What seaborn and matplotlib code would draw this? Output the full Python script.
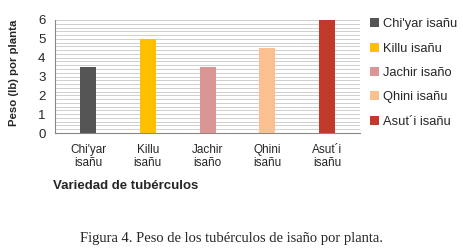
import matplotlib
matplotlib.use("Agg")
import matplotlib.pyplot as plt
import seaborn as sns
import pandas as pd
import numpy as np

categories = ["Chi'yar isañu", "Killu isañu", "Jachir isaño", "Qhini isañu", "Asut´i isañu"]
tick_labels = ["Chi'yar\nisañu", "Killu\nisañu", "Jachir\nisaño", "Qhini\nisañu", "Asut´i\nisañu"]
values = [3.5, 5.0, 3.5, 4.5, 6.0]
colors = ["#555555", "#FFC000", "#DA9694", "#FAC08F", "#C0392B"]

sns.set_style("white")
plt.rcParams['font.family'] = ['Liberation Sans', 'DejaVu Sans']

df = pd.DataFrame({"Variedad": categories, "Peso": values})

fig = plt.figure(figsize=(4.64, 2.5), dpi=100)
ax = fig.add_axes([0.119, 0.468, 0.657, 0.452])

for y in np.arange(0.2, 6.01, 0.2):
    ax.axhline(y, color="#c8c8c8", lw=0.6, zorder=0)

sns.barplot(data=df, x="Variedad", y="Peso", hue="Variedad", palette=colors,
            width=0.27, dodge=False, ax=ax, saturation=1, edgecolor="none", zorder=3)

ax.set_ylim(0, 6)
ax.set_yticks(range(0, 7))
ax.set_xticks(range(len(tick_labels)))
ax.set_xticklabels(tick_labels, fontsize=8.5, linespacing=1.1)
ax.tick_params(axis='y', labelsize=9.5, length=3, color="#888888", pad=4)
ax.tick_params(axis='x', length=0, pad=8)
ax.set_xlim(-0.55, 4.55)
for s in ["top", "right"]:
    ax.spines[s].set_visible(False)
ax.spines["left"].set_color("#888888")
ax.spines["bottom"].set_color("#888888")

ax.set_ylabel("Peso (lb) por planta", fontsize=8.2, fontweight="bold")
ax.yaxis.set_label_coords(-0.12, 0.53)
ax.set_xlabel("Variedad de tubérculos", fontsize=9.5, fontweight="bold", labelpad=0)
ax.xaxis.set_label_coords(0.23, -0.42)

leg = ax.get_legend()
if leg is not None:
    leg.remove()
from matplotlib.patches import Patch
handles = [Patch(facecolor=c, edgecolor="none") for c in colors]
fig.legend(handles, categories, loc="center left", bbox_to_anchor=(0.772, 0.708),
           frameon=False, fontsize=9.3, handlelength=0.7, handleheight=0.7,
           handletextpad=0.3, labelspacing=0.95)

fig.text(0.5, 0.045, "Figura 4. Peso de los tubérculos de isaño por planta.",
         ha="center", va="center", fontsize=10.5, family=["Liberation Serif", "DejaVu Serif"])

fig.savefig("out.png", dpi=100)
